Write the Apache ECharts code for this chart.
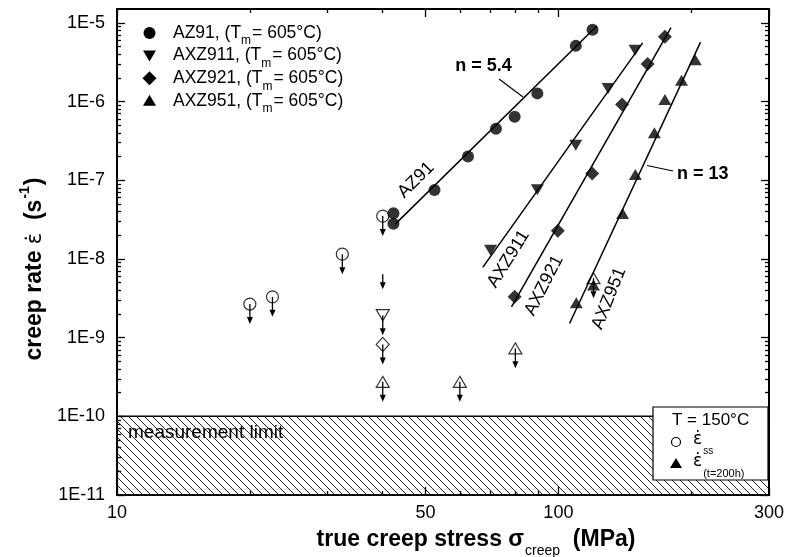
<!DOCTYPE html>
<html><head><meta charset="utf-8">
<script src="https://cdn.jsdelivr.net/npm/echarts@6/dist/echarts.min.js"></script>
<style>html,body{margin:0;padding:0;background:#fff}#c{width:787px;height:557px}</style>
</head><body><div id="c"></div>
<script>
// ---------- data ----------
const stressAZ91  = [42.3, 42.3, 52.4, 62.4, 72.2, 79.6, 89.6, 109.5, 119.5];
const rateAZ91    = [3.8e-8, 2.8e-8, 7.5e-8, 2.0e-7, 4.5e-7, 6.4e-7, 1.27e-6, 5.1e-6, 8.2e-6];
const stressAXZ911 = [70.2, 89.6, 109.5, 129.6, 149.2];
const rateAXZ911   = [1.29e-8, 7.55e-8, 2.79e-7, 1.47e-6, 4.5e-6];
const stressAXZ921 = [79.6, 99.7, 119.3, 139.4, 159.3, 174.3];
const rateAXZ921   = [3.3e-9, 2.28e-8, 1.22e-7, 9.2e-7, 2.99e-6, 6.68e-6];
const stressAXZ951 = [109.8, 120.1, 139.8, 149.4, 165.0, 174.3, 190.1, 204.2];
const rateAXZ951   = [2.77e-9, 4.65e-9, 3.79e-8, 1.18e-7, 4.0e-7, 1.06e-6, 1.87e-6, 3.39e-6];

// power-law fit lines (end points)
const fitAZ91Stress   = [42.7, 122.2];  const fitAZ91Rate   = [2.77e-8, 9.1e-6];
const fitAXZ911Stress = [67.4, 155.2];  const fitAXZ911Rate = [7.8e-9, 5.57e-6];
const fitAXZ921Stress = [78.3, 179.9];  const fitAXZ921Rate = [2.46e-9, 8.7e-6];
const fitAXZ951Stress = [106.0, 209.9]; const fitAXZ951Rate = [1.51e-9, 5.7e-6];

// steady-state (open) upper-bound points
const ssCircleStress = [20.0, 22.5, 32.4, 40.0];
const ssCircleRate   = [2.67e-9, 3.3e-9, 1.15e-8, 3.5e-8];
const ssDownStress   = [40.0];  const ssDownRate = [1.93e-9];
const ssDiamondStress = [40.0]; const ssDiamondRate = [8.2e-10];
const ssUpStress     = [40.0, 59.8, 79.9, 120.1];
const ssUpRate       = [2.74e-10, 2.74e-10, 7.3e-10, 5.7e-9];
const bareArrowStress = [40.0]; const bareArrowRate = [6.4e-9];

const limitRange = [1e-11, 1e-10];

// tick values
const xLabels = [10, 50, 100, 300];
const xMajor  = [10, 50, 100, 300];
const xMinor  = [20, 30, 40, 60, 70, 80, 90, 200];
const yMajor  = [1e-11, 1e-10, 1e-9, 1e-8, 1e-7, 1e-6, 1e-5];
const yMinor  = [];
for (let n = -11; n <= -6; n++) for (let k = 2; k <= 9; k++) yMinor.push(+(k * Math.pow(10, n)).toPrecision(3));

// ---------- helpers ----------
const FONT = '"Liberation Sans", Arial, sans-serif';
const EFONT = '"DejaVu Sans", "Liberation Sans", sans-serif';
const zip = (a, b) => a.map((v, i) => [v, b[i]]);
const DOWN_TRI = 'path://M0,0L12,0L6,10Z';
const UP_TRI = 'path://M6,0L12,10L0,10Z';

const pc = document.createElement('canvas'); pc.width = 8; pc.height = 8;
const g = pc.getContext('2d'); g.strokeStyle = '#222'; g.lineWidth = 1;
g.beginPath(); g.moveTo(-1, -1); g.lineTo(9, 9); g.moveTo(-1, 7); g.lineTo(1, 9); g.moveTo(7, -1); g.lineTo(9, 1); g.stroke();

function axisX(pos, ticks, len, withLine, withLabel) {
  return {
    type: 'log', logBase: 10, min: 10, max: 300, position: pos,
    splitLine: { show: false }, minorTick: { show: false },
    axisLine: { show: withLine, onZero: false, lineStyle: { color: '#000', width: 2 } },
    axisTick: { show: true, inside: true, length: len, customValues: ticks, lineStyle: { color: '#000', width: 1.3 } },
    axisLabel: withLabel ? { show: true, customValues: xLabels, fontSize: 18, color: '#000', fontFamily: FONT, margin: 9 } : { show: false }
  };
}
function axisY(pos, ticks, len, withLine, withLabel) {
  return {
    type: 'log', logBase: 10, min: 1e-11, max: 1.5e-5, position: pos,
    splitLine: { show: false }, minorTick: { show: false },
    axisLine: { show: withLine, onZero: false, lineStyle: { color: '#000', width: 2 } },
    axisTick: { show: true, inside: true, length: len, customValues: ticks, lineStyle: { color: '#000', width: 1.3 } },
    axisLabel: withLabel ? { show: true, customValues: yMajor, fontSize: 18, color: '#000', fontFamily: FONT, margin: 12,
      formatter: v => '1E' + Math.round(Math.log10(v)) } : { show: false }
  };
}
function filled(name, data, symbol, size) {
  return { name, type: 'scatter', data, symbol, symbolSize: size, itemStyle: { color: '#000' }, z: 5, silent: true };
}
function openSym(data, symbol, size) {
  return { type: 'scatter', data, symbol, symbolSize: size, z: 5, silent: true,
    itemStyle: { color: 'rgba(0,0,0,0)', borderColor: '#000', borderWidth: 1.2 } };
}
function fitLine(xs, ys) {
  return { type: 'line', data: zip(xs, ys), showSymbol: false, symbol: 'none', z: 4, silent: true,
    lineStyle: { color: '#000', width: 1.5 } };
}
function arrows(data, len) {
  return { type: 'custom', data, z: 3, silent: true, encode: { x: 0, y: 1 },
    renderItem: (params, api) => {
      const p = api.coord([api.value(0), api.value(1)]);
      const tip = p[1] + len;
      return { type: 'group', children: [
        { type: 'line', shape: { x1: p[0], y1: p[1], x2: p[0], y2: tip - 5 }, style: { stroke: '#000', lineWidth: 1.3 } },
        { type: 'polygon', shape: { points: [[p[0] - 3, tip - 7], [p[0] + 3, tip - 7], [p[0], tip]] }, style: { fill: '#000' } }
      ] };
    } };
}

const limitSeries = fitLine(fitAZ91Stress, fitAZ91Rate);
limitSeries.markArea = {
  silent: true,
  itemStyle: { color: { image: pc, repeat: 'repeat' }, borderColor: '#000', borderWidth: 1.5 },
  label: { show: false },
  data: [[{ coord: [10, limitRange[0]] }, { coord: [300, limitRange[1]] }]]
};

// ---------- legends / annotations (graphic) ----------
const legendNames = ['AZ91', 'AXZ911', 'AXZ921', 'AXZ951'];
const legendShapes = [
  { type: 'circle', shape: { cx: 0, cy: 0, r: 6 } },
  { type: 'polygon', shape: { points: [[-6.5, -5], [6.5, -5], [0, 6]] } },
  { type: 'polygon', shape: { points: [[0, -7], [7, 0], [0, 7], [-7, 0]] } },
  { type: 'polygon', shape: { points: [[0, -6], [6.5, 5], [-6.5, 5]] } }
];
const graphics = [];
legendNames.forEach((nm, i) => {
  const cy = 33 + i * 22.6;
  const sh = Object.assign({}, legendShapes[i]);
  sh.x = 149.5; sh.y = cy; sh.style = { fill: '#000' }; sh.z = 50;
  graphics.push(sh);
  graphics.push({ type: 'text', x: 173, y: cy - 9, z: 50, style: {
    text: `{n|${nm}, (T}{m|m}{n|= 605°C)}`, verticalAlign: 'top', align: 'left',
    rich: {
      n: { fontSize: 17.5, fontFamily: FONT, lineHeight: 18, verticalAlign: 'top', fill: '#000' },
      m: { fontSize: 12, fontFamily: FONT, lineHeight: 12, verticalAlign: 'top', padding: [11, 1, 0, 0], fill: '#000' }
    } } });
});

// measurement-limit text
graphics.push({ type: 'text', x: 128, y: 433, z: 40, style: { text: 'measurement limit', fontSize: 19, fontFamily: FONT, fill: '#000', verticalAlign: 'middle' } });

// line labels
const lineLabels = [
  { text: 'AZ91', x: 416, y: 180, rot: 45 },
  { text: 'AXZ911', x: 508.5, y: 259, rot: 58 },
  { text: 'AXZ921', x: 544, y: 285.5, rot: 63 },
  { text: 'AXZ951', x: 609, y: 298.5, rot: 68 }
];
lineLabels.forEach(l => graphics.push({ type: 'text', x: l.x, y: l.y, rotation: l.rot * Math.PI / 180, z: 50,
  style: { text: l.text, fontSize: 18, fontFamily: FONT, fill: '#000', align: 'center', verticalAlign: 'middle' } }));

graphics.push({ type: 'text', x: 483.5, y: 66, z: 50, style: { text: 'n = 5.4', fontSize: 18, fontWeight: 'bold', fontFamily: FONT, fill: '#000', align: 'center', verticalAlign: 'middle' } });
graphics.push({ type: 'line', z: 50, shape: { x1: 499, y1: 79, x2: 523, y2: 97 }, style: { stroke: '#000', lineWidth: 1.2 } });
graphics.push({ type: 'text', x: 677, y: 174, z: 50, style: { text: 'n = 13', fontSize: 18, fontWeight: 'bold', fontFamily: FONT, fill: '#000', align: 'left', verticalAlign: 'middle' } });
graphics.push({ type: 'line', z: 50, shape: { x1: 647, y1: 165.5, x2: 673, y2: 171 }, style: { stroke: '#000', lineWidth: 1.2 } });

// axis titles
graphics.push({ type: 'text', x: 476, y: 528, z: 50, style: {
  text: '{b|true creep stress σ}{s|creep}{b|  (MPa)}', align: 'center', verticalAlign: 'top',
  rich: {
    b: { fontSize: 23, fontWeight: 'bold', fontFamily: FONT, lineHeight: 24, verticalAlign: 'top', fill: '#000' },
    s: { fontSize: 14, fontFamily: FONT, lineHeight: 14, verticalAlign: 'top', padding: [16, 0, 0, 1], fill: '#000' }
  } } });
graphics.push({ type: 'text', x: 32, y: 269, rotation: Math.PI / 2, z: 50, style: {
  text: '{b|creep rate }{e|ε̇}{b|  (s}{p|-1}{b|)}', align: 'center', verticalAlign: 'middle',
  rich: {
    b: { fontSize: 23, fontWeight: 'bold', fontFamily: FONT, lineHeight: 28, verticalAlign: 'bottom', fill: '#000' },
    e: { fontSize: 21, fontFamily: EFONT, lineHeight: 28, verticalAlign: 'bottom', fill: '#000' },
    p: { fontSize: 14, fontWeight: 'bold', fontFamily: FONT, lineHeight: 14, verticalAlign: 'top', padding: [0, 1, 0, 1], fill: '#000' }
  } } });

// bottom-right key box (absolute positions, drawn above the hatched area)
const BX = 653, BY = 407;
graphics.push({ type: 'rect', z: 100, shape: { x: BX, y: BY, width: 115, height: 73 }, style: { fill: '#fff', stroke: '#000', lineWidth: 1.2 } });
graphics.push({ type: 'text', z: 101, x: BX + 19, y: BY + 13, style: { text: 'T = 150°C', fontSize: 17, fontFamily: FONT, fill: '#000', verticalAlign: 'middle' } });
graphics.push({ type: 'circle', z: 101, shape: { cx: BX + 23, cy: BY + 35, r: 4.5 }, style: { fill: 'none', stroke: '#000', lineWidth: 1.2 } });
graphics.push({ type: 'polygon', z: 101, shape: { points: [[BX + 23, BY + 51], [BX + 29, BY + 61], [BX + 17, BY + 61]] }, style: { fill: '#000' } });
graphics.push({ type: 'text', z: 101, x: BX + 40, y: BY + 24, style: { text: '{e|ε̇}{s|ss}', verticalAlign: 'top', rich: {
    e: { fontSize: 17, fontFamily: EFONT, lineHeight: 20, verticalAlign: 'top', fill: '#000' },
    s: { fontSize: 10, fontFamily: FONT, lineHeight: 10, verticalAlign: 'top', padding: [15, 0, 0, 1], fill: '#000' } } } });
graphics.push({ type: 'text', z: 101, x: BX + 40, y: BY + 46, style: { text: '{e|ε̇}{s|(t=200h)}', verticalAlign: 'top', rich: {
    e: { fontSize: 17, fontFamily: EFONT, lineHeight: 20, verticalAlign: 'top', fill: '#000' },
    s: { fontSize: 11, fontFamily: FONT, lineHeight: 11, verticalAlign: 'top', padding: [15, 0, 0, 1], fill: '#000' } } } });

const chart = echarts.init(document.getElementById('c'), null, { renderer: 'canvas' });
chart.setOption({
  animation: false,
  backgroundColor: '#fff',
  grid: { left: 117, right: 16, top: 9, bottom: 62 },
  xAxis: [
    axisX('bottom', xMajor, 8, true, true),
    axisX('bottom', xMinor, 4, false, false),
    axisX('top', xMajor, 8, true, false),
    axisX('top', xMinor, 4, false, false)
  ],
  yAxis: [
    axisY('left', yMajor, 8, true, true),
    axisY('left', yMinor, 4, false, false),
    axisY('right', yMajor, 8, true, false),
    axisY('right', yMinor, 4, false, false)
  ],
  series: [
    limitSeries,
    fitLine(fitAXZ911Stress, fitAXZ911Rate),
    fitLine(fitAXZ921Stress, fitAXZ921Rate),
    fitLine(fitAXZ951Stress, fitAXZ951Rate),
    arrows(zip(ssCircleStress, ssCircleRate), 20),
    arrows(zip(ssDownStress, ssDownRate), 20),
    arrows(zip(ssDiamondStress, ssDiamondRate), 20),
    arrows(zip(ssUpStress, ssUpRate), 20),
    arrows(zip(bareArrowStress, bareArrowRate), 15),
    openSym(zip(ssCircleStress, ssCircleRate), 'circle', 12),
    openSym(zip(ssDownStress, ssDownRate), DOWN_TRI, [13, 11]),
    openSym(zip(ssDiamondStress, ssDiamondRate), 'diamond', [13, 14]),
    openSym(zip(ssUpStress, ssUpRate), UP_TRI, [13, 11]),
    filled('AZ91', zip(stressAZ91, rateAZ91), 'circle', 12),
    filled('AXZ911', zip(stressAXZ911, rateAXZ911), DOWN_TRI, [13, 11]),
    filled('AXZ921', zip(stressAXZ921, rateAXZ921), 'diamond', [14, 14]),
    filled('AXZ951', zip(stressAXZ951, rateAXZ951), UP_TRI, [13, 11])
  ],
  graphic: graphics
});
</script></body></html>
